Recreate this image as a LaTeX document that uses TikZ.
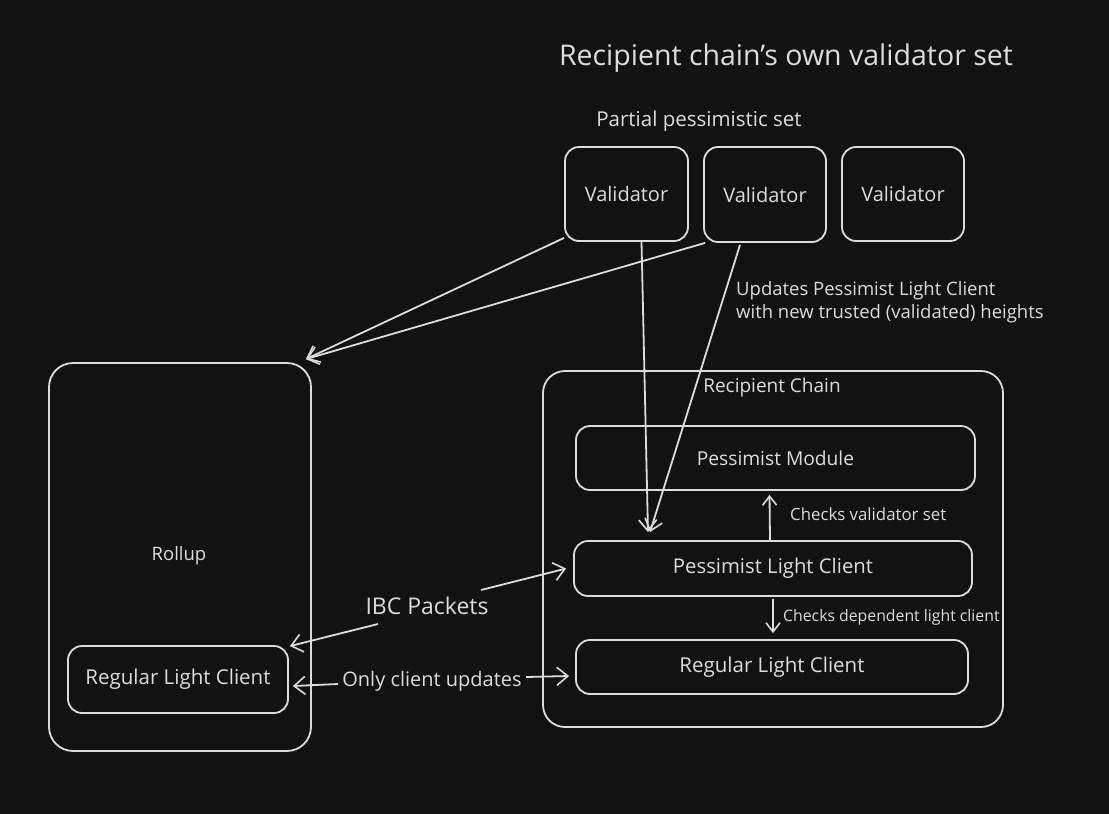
\documentclass[tikz,border=0pt]{standalone}
\usepackage{fontspec}
\setmainfont{Open Sans}
\usetikzlibrary{arrows.meta}
\definecolor{bg}{HTML}{121212}
\definecolor{ink}{HTML}{DCDCDC}
\newcommand{\fsz}[1]{\fontsize{#1}{#1}\selectfont}
\begin{document}
\begin{tikzpicture}[x=1pt,y=-1pt,
  box/.style={draw=ink,line width=1.8pt,rounded corners=14pt,inner sep=0pt,text=ink},
  lbl/.style={text=ink,inner sep=0pt},
  conn/.style={draw=ink,line width=1.8pt,-{Straight Barb[length=11pt,width=18pt,line width=1.6pt]}},
  small/.style={-{Straight Barb[length=9pt,width=14pt,line width=1.6pt]}},
  every node/.style={font=\fsz{17}}]
\fill[bg] (0,0) rectangle (1109,814);
\useasboundingbox (0,0) rectangle (1109,814);
% title
\node[lbl,font=\fsz{28.5}] (title) at (786,58) {Recipient chain's own validator set};
\node[lbl,font=\fsz{20.5}] (pset) at (699,121) {Partial pessimistic set};
% validators
\node[box,font=\fsz{20},minimum width=123pt,minimum height=94pt] (v1) at (626.5,194) {Validator};
\node[box,font=\fsz{20},minimum width=122pt,minimum height=95pt] (v2) at (765,194.5) {Validator};
\node[box,font=\fsz{20},minimum width=122pt,minimum height=94pt] (v3) at (903,194) {Validator};
% rollup
\node[box,rounded corners=24pt,minimum width=262pt,minimum height=388pt] (rollup) at (180,557) {};
\node[lbl,font=\fsz{18.5}] (rolluplbl) at (179,556) {Rollup};
\node[box,font=\fsz{20.5},minimum width=220pt,minimum height=67pt] (rlcL) at (178,679.5) {Regular Light Client};
% recipient chain
\node[box,rounded corners=22pt,minimum width=460pt,minimum height=356pt] (rc) at (773,549) {};
\node[lbl,font=\fsz{19}] (rclbl) at (772,388) {Recipient Chain};
\node[box,font=\fsz{19.2},minimum width=399pt,minimum height=64pt] (pm) at (775.5,458) {Pessimist Module};
\node[box,font=\fsz{20.3},minimum width=398pt,minimum height=55pt] (plc) at (773,568.5) {Pessimist Light Client};
\node[box,font=\fsz{20.5},minimum width=392pt,minimum height=54pt] (rlcR) at (772,667) {Regular Light Client};
% validators to rollup
\draw[conn] ([yshift=4pt]v1.south west) -- ([xshift=-6pt,yshift=3pt]rollup.north east);
\draw[conn] ([xshift=2pt]v2.south west) -- ([xshift=-6pt,yshift=3pt]rollup.north east);
% validators to pessimist light client
\draw[conn] ([xshift=15pt]v1.south) -- ([xshift=-125pt,yshift=8pt]plc.north);
\draw[conn] ([xshift=-25pt,yshift=-2pt]v2.south) -- ([xshift=-123pt,yshift=8pt]plc.north);
\node[lbl,anchor=west,align=left,font=\fsz{18.5}] (upd) at (736,302) {Updates Pessimist Light Client\\[5pt]with new trusted (validated) heights};
% checks
\draw[conn,small] ([xshift=-3pt]plc.north) -- ([xshift=-6pt,yshift=-4pt]pm.south);
\node[lbl,anchor=west,font=\fsz{16.8}] (cvs) at (790,514) {Checks validator set};
\draw[conn,small] ([yshift=-2pt]plc.south) -- ([xshift=1pt,yshift=6pt]rlcR.north);
\node[lbl,anchor=west,font=\fsz{15.8}] (cdl) at (783,617) {Checks dependent light client};
% IBC packets
\node[lbl,font=\fsz{23}] (ibc) at (427,606) {IBC Packets};
\draw[conn] ([xshift=54pt,yshift=16pt]ibc.center) -- ([xshift=-7pt]plc.west);
\draw[conn] ([xshift=-49pt,yshift=-18pt]ibc.center) -- ([xshift=1pt,yshift=-1pt]rlcL.north east);
% only client updates
\node[lbl,font=\fsz{20}] (ocu) at (432,681) {Only client updates};
\draw[conn] ([xshift=-94pt,yshift=-3pt]ocu.center) -- ([xshift=4pt,yshift=-6.5pt]rlcL.east);
\draw[conn] ([xshift=94pt,yshift=4pt]ocu.center) -- ([xshift=-6pt,yshift=-9pt]rlcR.west);
\end{tikzpicture}
\end{document}
